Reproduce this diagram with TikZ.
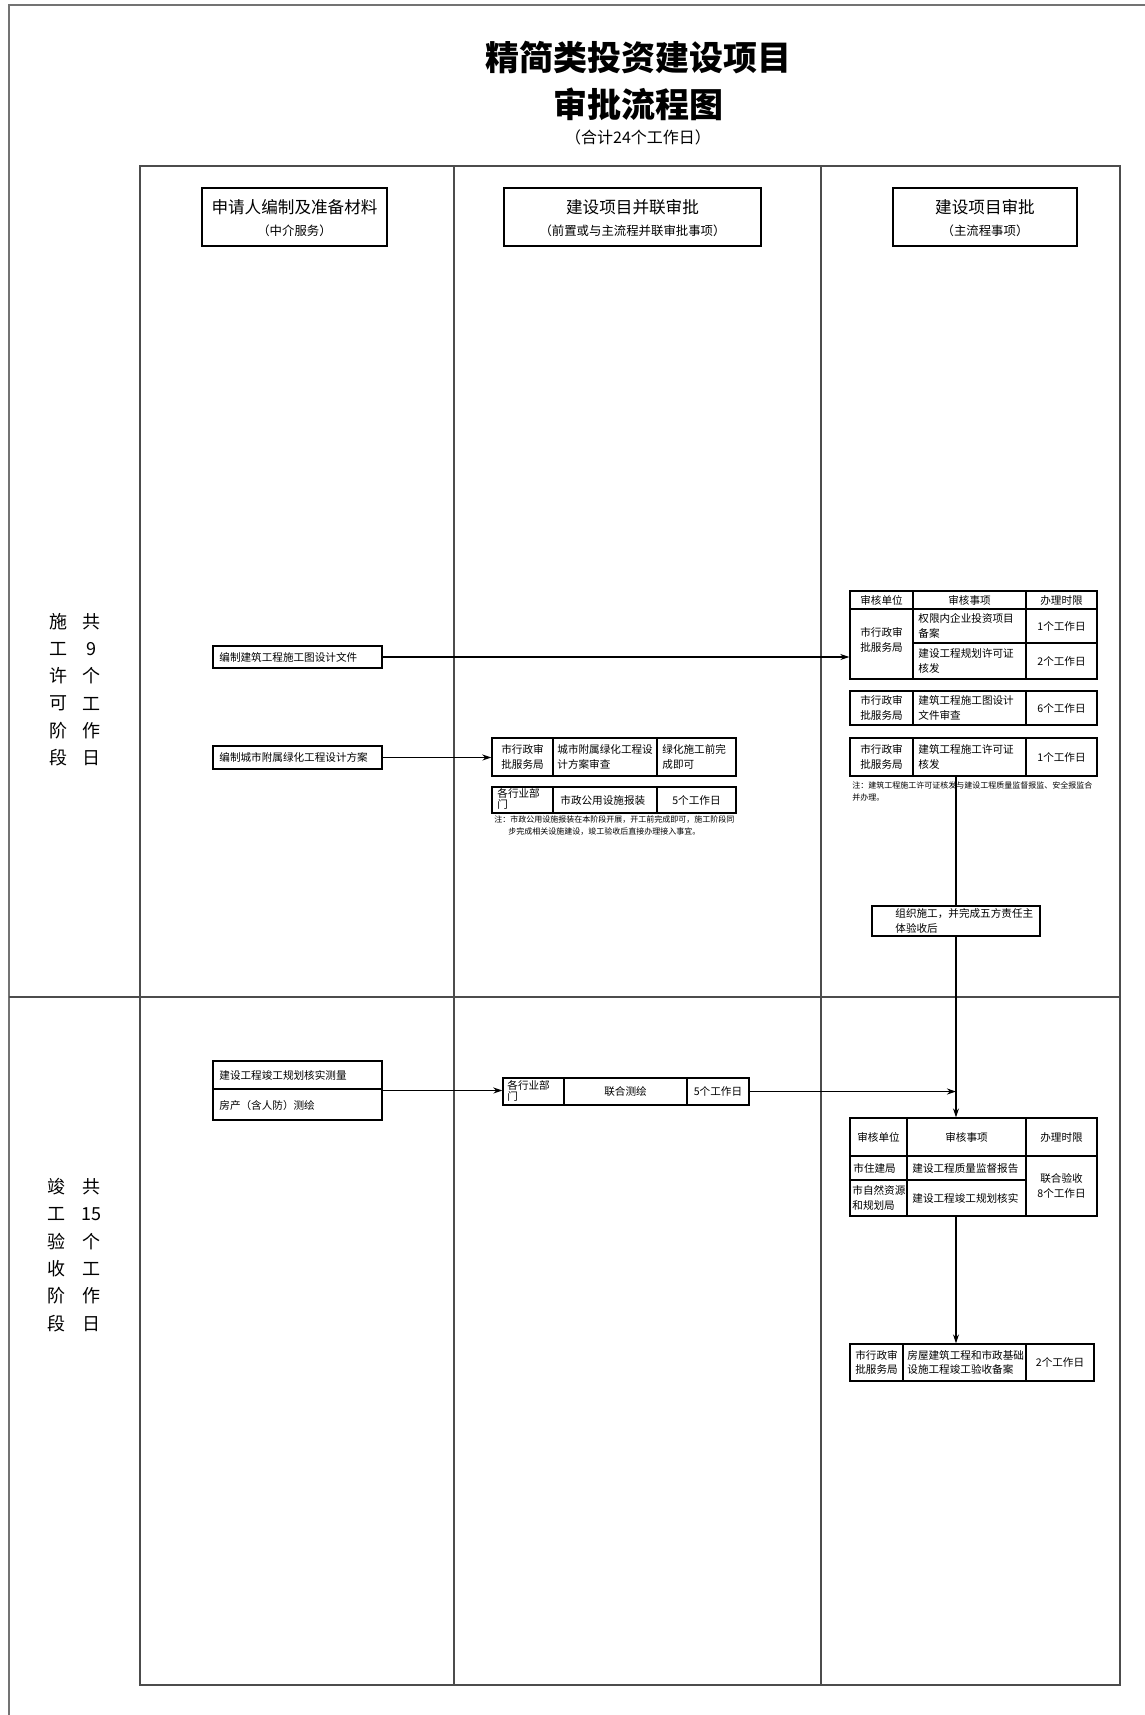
\documentclass[tikz,border=0pt]{standalone}
\usepackage{fontspec}
\setmainfont{Noto Sans CJK SC}
\usetikzlibrary{arrows.meta,fit}
\tikzset{
  frameline/.style={draw=black!55, line width=0.8pt},
  gridline/.style={draw=black!70, line width=0.6pt},
  box/.style={draw, line width=0.7pt, inner sep=0pt},
  tline/.style={line width=0.55pt},
  txt/.style={font=\fontsize{5.3}{7.4}\selectfont, inner sep=0pt, align=center},
  txtl/.style={txt, align=left, anchor=west},
  notetxt/.style={font=\fontsize{4}{6}\selectfont, inner sep=0pt, align=left, anchor=north west},
  hdrA/.style={font=\fontsize{8.3}{10}\selectfont, inner sep=0pt},
  hdrB/.style={font=\fontsize{6.2}{8}\selectfont, inner sep=0pt},
  vlab/.style={font=\fontsize{9}{13.65}\selectfont, inner sep=0pt, align=center},
  titlefont/.style={font=\fontsize{17}{20}\selectfont\bfseries, inner sep=0pt},
  arr/.style={-{Stealth[length=4.5pt,width=3pt]}, line width=0.55pt},
  plain/.style={line width=0.55pt}
}
\begin{document}
\begin{tikzpicture}[x=0.5pt,y=-0.5pt]
\useasboundingbox (0,0) rectangle (1145,1715);
\fill[white] (0,0) rectangle (1145,1715);

% outer frame (top and left edges) and lanes
\draw[frameline] (9,1715) -- (9,5) -- (1145,5);
\draw[gridline] (140,166) rectangle (1120,1685);
\draw[gridline] (454,166) -- (454,1685);
\draw[gridline] (821,166) -- (821,1685);
\draw[gridline] (9,997) -- (1120,997);

% title
\node[titlefont] (title1) at (638,58) {精简类投资建设项目};
\node[titlefont] (title2) at (638,104) {审批流程图};
\node[font=\fontsize{8}{10}\selectfont, inner sep=0pt] (title3) at (638,137) {（合计24个工作日）};

% lane headers
\node[box, fit={(202,188) (387,246)}] (h1) {};
\node[hdrA] (h1a) at (294.5,207) {申请人编制及准备材料};
\node[hdrB] (h1b) at (294.5,231) {（中介服务）};
\node[box, fit={(504,188) (761,246)}] (h2) {};
\node[hdrA] (h2a) at (632.5,207) {建设项目并联审批};
\node[hdrB] (h2b) at (632.5,231) {（前置或与主流程并联审批事项）};
\node[box, fit={(893,188) (1077,246)}] (h3) {};
\node[hdrA] (h3a) at (985,207) {建设项目审批};
\node[hdrB] (h3b) at (985,231) {（主流程事项）};

% phase labels
\node[vlab] (p1a) at (58,689.5) {施\\工\\许\\可\\阶\\段};
\node[vlab] (p1b) at (91,689.5) {共\\9\\个\\工\\作\\日};
\node[vlab] (p2a) at (56,1255) {竣\\工\\验\\收\\阶\\段};
\node[vlab] (p2b) at (91,1255) {共\\15\\个\\工\\作\\日};

% ---------- phase 1 ----------
\node[box, fit={(213,646) (382,668)}] (l1) {};
\node[txtl] (l1t) at (219,657) {编制建筑工程施工图设计文件};
\node[box, fit={(213,746) (382,769)}] (l2) {};
\node[txtl] (l2t) at (219,757.5) {编制城市附属绿化工程设计方案};

% middle tables phase 1
\node[box, fit={(492,738) (736,776)}] (m1) {};
\draw[tline] (553,738) -- (553,776) (657,738) -- (657,776);
\node[txt] (m1a) at (522.5,757) {市行政审\\批服务局};
\node[txtl] (m1b) at (557,757) {城市附属绿化工程设\\计方案审查};
\node[txtl] (m1c) at (662,757) {绿化施工前完\\成即可};
\node[box, fit={(492,787) (736,813)}] (m2) {};
\draw[tline] (553,787) -- (553,813) (657,787) -- (657,813);
\node[txtl, font=\fontsize{5.3}{5.6}\selectfont] (m2a) at (497,799) {各行业部\\门};
\node[txtl] (m2b) at (560,800) {市政公用设施报装};
\node[txt] (m2c) at (696.5,800) {5个工作日};
\node[notetxt] (m2n) at (494,815) {注：市政公用设施报装在本阶段开展，开工前完成即可，施工阶段同\\\hspace*{1.75em}步完成相关设施建设，竣工验收后直接办理接入事宜。};

% right tables phase 1
\node[box, fit={(850,591) (1097,679)}] (t1) {};
\draw[tline] (850,609) -- (1097,609);
\draw[tline] (913,591) -- (913,679) (1026,591) -- (1026,679);
\draw[tline] (913,643) -- (1097,643);
\node[txt] (t1h1) at (881.5,600) {审核单位};
\node[txt] (t1h2) at (969.5,600) {审核事项};
\node[txt] (t1h3) at (1061.5,600) {办理时限};
\node[txt] (t1a) at (881.5,640) {市行政审\\批服务局};
\node[txtl] (t1b) at (918,626) {权限内企业投资项目\\备案};
\node[txtl] (t1c) at (918,661) {建设工程规划许可证\\核发};
\node[txt] (t1d) at (1061.5,626) {1个工作日};
\node[txt] (t1e) at (1061.5,661) {2个工作日};

\node[box, fit={(850,691) (1097,725)}] (t2) {};
\draw[tline] (913,691) -- (913,725) (1026,691) -- (1026,725);
\node[txt] (t2a) at (881.5,708) {市行政审\\批服务局};
\node[txtl] (t2b) at (918,708) {建筑工程施工图设计\\文件审查};
\node[txt] (t2c) at (1061.5,708) {6个工作日};

\node[box, fit={(850,738) (1097,776)}] (t3) {};
\draw[tline] (913,738) -- (913,776) (1026,738) -- (1026,776);
\node[txt] (t3a) at (881.5,757) {市行政审\\批服务局};
\node[txtl] (t3b) at (918,757) {建筑工程施工许可证\\核发};
\node[txt] (t3c) at (1061.5,757) {1个工作日};
\node[notetxt] (t3n) at (852,781) {注：建筑工程施工许可证核发与建设工程质量监督报监、安全报监合\\并办理。};

\node[box, fit={(872,906) (1040,936)}] (g) {};
\node[txtl] (gt) at (895,921) {组织施工，并完成五方责任主\\体验收后};

% ---------- phase 2 ----------
\node[box, fit={(213,1061) (382,1120)}] (l3) {};
\draw[tline] (213,1089) -- (382,1089);
\node[txtl] (l3a) at (219,1075) {建设工程竣工规划核实测量};
\node[txtl] (l3b) at (219,1105) {房产（含人防）测绘};

\node[box, fit={(503,1078) (749,1105)}] (m3) {};
\draw[tline] (564,1078) -- (564,1105) (687,1078) -- (687,1105);
\node[txtl, font=\fontsize{5.3}{5.6}\selectfont] (m3a) at (507,1091) {各行业部\\门};
\node[txt] (m3b) at (625.5,1091.5) {联合测绘};
\node[txt] (m3c) at (718,1091.5) {5个工作日};

\node[box, fit={(850,1118) (1097,1216)}] (t4) {};
\draw[tline] (850,1156) -- (1097,1156);
\draw[tline] (907,1118) -- (907,1216) (1026,1118) -- (1026,1216);
\draw[tline] (850,1180) -- (1026,1180);
\node[txt] (t4h1) at (878.5,1137) {审核单位};
\node[txt] (t4h2) at (966.5,1137) {审核事项};
\node[txt] (t4h3) at (1061.5,1137) {办理时限};
\node[txtl] (t4a) at (853,1168) {市住建局};
\node[txtl] (t4b) at (912,1168) {建设工程质量监督报告};
\node[txtl] (t4c) at (852,1198) {市自然资源\\和规划局};
\node[txtl] (t4d) at (912,1198) {建设工程竣工规划核实};
\node[txt] (t4e) at (1061.5,1186) {联合验收\\8个工作日};

\node[box, fit={(850,1344) (1094,1381)}] (t5) {};
\draw[tline] (903,1344) -- (903,1381) (1026,1344) -- (1026,1381);
\node[txt] (t5a) at (876.5,1362.5) {市行政审\\批服务局};
\node[txtl] (t5b) at (907,1362.5) {房屋建筑工程和市政基础\\设施工程竣工验收备案};
\node[txt] (t5c) at (1060,1362.5) {2个工作日};

% ---------- connectors ----------
\draw[arr] (l1.east) -- (l1.east -| t1.west);
\draw[arr] (l2.east) -- (l2.east -| m1.west);
\draw[plain] (t3.south -| g.north) -- (g.north);
\coordinate (j) at (g.south |- m3.east);
\draw[arr] (g.south) -- (g.south |- t4.north);
\draw[arr] (l3.east) -- (l3.east -| m3.west);
\draw[arr] (m3.east) -- (j);
\draw[arr] (g.south |- t4.south) -- (g.south |- t5.north);
\end{tikzpicture}
\end{document}
